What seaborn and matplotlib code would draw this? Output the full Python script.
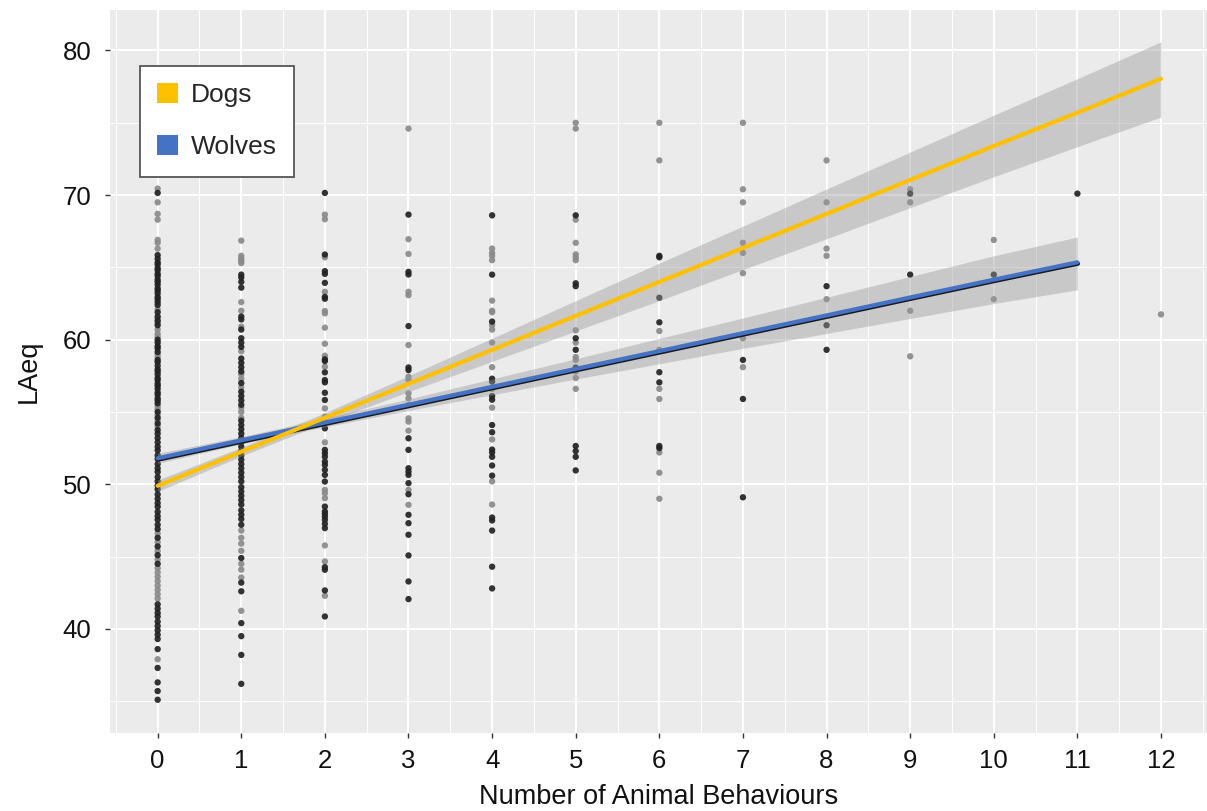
import numpy as np
import pandas as pd
import matplotlib
matplotlib.use("Agg")
import matplotlib.pyplot as plt
import matplotlib.patheffects as pe
from matplotlib.patches import Patch
from matplotlib.ticker import MultipleLocator
import seaborn as sns

# ---------------- data ----------------
behaviours = [0, 1, 2, 3, 4, 5, 6, 7, 8, 9, 10, 11, 12]
x_ticks = [0, 1, 2, 3, 4, 5, 6, 7, 8, 9, 10, 11, 12]
y_ticks = [40, 50, 60, 70, 80]

# scatter points per behaviour count (dark = overlapping / opaque, light = single)
dark_0 = [70.15, 65.85, 65.6, 65.35, 65.2, 64.95, 64.8, 64.55, 64.4, 64.15, 64.0, 63.8,
          63.55, 63.4, 63.2, 62.95, 62.8, 62.6, 62.4, 61.9, 61.6, 61.3, 61.0, 60.0,
          59.8, 59.55, 59.4, 59.15, 58.6, 58.45, 58.2, 57.95, 57.8, 57.6, 57.35, 57.2,
          56.95, 56.8, 56.6, 56.35, 56.2, 55.95, 55.8, 55.6, 55.0, 54.6, 54.2, 53.75,
          53.5, 53.2, 52.9, 52.6, 52.35, 52.0, 51.75, 51.4, 51.1, 50.85, 50.5, 50.2,
          49.9, 49.65, 49.3, 49.0, 48.7, 48.45, 48.1, 47.8, 47.55, 47.2, 46.9, 46.3,
          45.7, 45.1, 44.5, 41.7, 41.4, 41.1, 40.85, 40.5, 40.2, 39.9, 39.6, 39.3,
          38.6, 37.3, 36.3, 35.7, 35.1]
light_0 = [71.7, 70.45, 69.5, 68.7, 68.3, 66.9, 66.7, 66.3, 62.1, 61.45, 61.15, 60.7,
           60.4, 60.2, 59.0, 58.8, 55.4, 55.2, 54.8, 54.4, 54.0, 46.6, 46.0, 45.4,
           44.8, 44.2, 43.9, 43.6, 43.3, 43.0, 42.7, 42.4, 42.1, 37.9]
dark_1 = [64.5, 64.3, 64.0, 63.6, 61.6, 61.4, 60.7, 60.1, 59.8, 59.5, 58.7, 58.4, 58.1,
          57.8, 57.0, 56.4, 56.1, 55.8, 55.5, 54.4, 54.1, 53.8, 53.5, 53.2, 52.9, 52.6,
          52.3, 52.0, 51.7, 51.4, 51.1, 50.8, 50.5, 50.2, 49.8, 49.5, 49.2, 48.9, 48.6,
          48.2, 47.9, 47.6, 47.2, 44.9, 43.2, 42.6, 40.4, 39.5, 38.2, 36.2]
light_1 = [66.85, 65.8, 65.6, 65.45, 65.3, 62.6, 62.0, 60.9, 59.2, 57.6, 57.3, 56.7,
           55.3, 55.0, 54.6, 46.8, 46.3, 45.9, 45.4, 44.5, 44.1, 43.55, 41.25]
dark_2 = [70.15, 65.89, 64.74, 64.55, 63.93, 62.96, 62.83, 58.64, 58.52, 57.74, 57.21,
          57.05, 56.33, 55.83, 53.87, 52.38, 52.15, 51.91, 51.57, 51.34, 51.0, 50.65,
          50.19, 48.46, 48.12, 47.96, 47.77, 47.55, 47.27, 46.97, 44.27, 44.09, 42.66,
          40.86]
light_2 = [68.65, 68.33, 65.7, 63.31, 61.98, 61.82, 60.83, 59.72, 58.89, 58.13, 55.25,
           54.68, 54.33, 52.9, 49.61, 49.38, 49.04, 45.77, 44.66, 42.29]
dark_3 = [68.65, 64.69, 64.51, 60.94, 58.08, 57.9, 53.18, 52.38, 51.11, 50.88, 50.65,
          50.08, 49.31, 47.89, 47.31, 46.51, 45.08, 43.28, 42.06]
light_3 = [74.6, 66.95, 65.93, 63.31, 63.08, 59.63, 57.44, 57.21, 56.29, 55.94, 55.48,
           54.56, 54.33, 53.71, 49.61, 48.58]
dark_4 = [68.6, 64.5, 61.25, 57.3, 57.1, 56.1, 55.85, 54.1, 53.6, 52.4, 52.2, 51.9,
          51.3, 50.6, 47.7, 47.5, 46.8, 44.3, 42.8]
light_4 = [66.3, 66.0, 65.8, 65.5, 62.7, 62.0, 61.9, 61.0, 60.7, 59.8, 58.1, 56.6,
           55.3, 53.1, 50.2, 48.6]
dark_5 = [68.6, 63.9, 63.7, 60.1, 59.3, 58.07, 52.65, 52.3, 51.9, 50.96]
light_5 = [75.0, 74.6, 68.3, 66.7, 65.9, 65.7, 65.5, 60.65, 59.8, 58.8, 58.6, 57.8,
           57.35, 56.6]
dark_6 = [65.8, 65.7, 62.9, 61.2, 57.75, 57.05, 52.65, 52.5]
light_6 = [75.0, 72.4, 60.6, 59.3, 56.6, 55.9, 52.2, 50.8, 49.0]
dark_7 = [58.6, 55.9, 49.1]
light_7 = [75.0, 70.4, 69.5, 66.7, 66.0, 64.6, 60.1, 58.1]
dark_8 = [63.7, 61.0, 59.3]
light_8 = [72.4, 69.5, 66.3, 65.8, 62.8]
dark_9 = [70.1, 64.5]
light_9 = [70.4, 69.5, 62.0, 58.85]
dark_10 = [64.5]
light_10 = [66.9, 62.8]
dark_11 = [70.1]
light_11 = []
dark_12 = []
light_12 = [61.75]

# fitted regression lines and 95% bands, read at each integer behaviour count
dogs_x = [0, 1, 2, 3, 4, 5, 6, 7, 8, 9, 10, 11, 12]
dogs_fit = [49.9, 52.25, 54.6, 56.95, 59.3, 61.65, 64.0, 66.35, 68.7, 71.05, 73.4, 75.7, 78.05]
dogs_lo = [49.5, 51.95, 54.25, 56.4, 58.5, 60.6, 62.7, 64.85, 66.98, 69.13, 71.27, 73.35, 75.4]
dogs_hi = [50.3, 52.55, 54.95, 57.5, 60.1, 62.7, 65.3, 67.85, 70.42, 72.97, 75.53, 78.05, 80.6]

wolves_x = [0, 1, 2, 3, 4, 5, 6, 7, 8, 9, 10, 11]
wolves_fit = [51.8, 53.04, 54.27, 55.5, 56.74, 57.98, 59.21, 60.45, 61.68, 62.92, 64.15, 65.35]
wolves_lo = [51.45, 52.79, 53.97, 55.1, 56.19, 57.28, 58.33, 59.4, 60.43, 61.47, 62.5, 63.45]
wolves_hi = [52.15, 53.29, 54.57, 55.9, 57.29, 58.68, 60.09, 61.5, 62.93, 64.37, 65.8, 67.1]

series_names = ["Dogs", "Wolves"]
series_colors = ["#FFC000", "#4472C4"]

# ---------------- build tables ----------------
dark_cols = [dark_0, dark_1, dark_2, dark_3, dark_4, dark_5, dark_6, dark_7, dark_8,
             dark_9, dark_10, dark_11, dark_12]
light_cols = [light_0, light_1, light_2, light_3, light_4, light_5, light_6, light_7,
              light_8, light_9, light_10, light_11, light_12]
rows = []
for xv, dl, ll in zip(behaviours, dark_cols, light_cols):
    for v in ll:
        rows.append((xv, v, "light"))
    for v in dl:
        rows.append((xv, v, "dark"))
points = pd.DataFrame(rows, columns=["Number of Animal Behaviours", "LAeq", "shade"])

# ---------------- style ----------------
sns.set_theme(style="darkgrid", rc={
    "axes.facecolor": "#EBEBEB",
    "figure.facecolor": "white",
    "grid.color": "white",
    "axes.edgecolor": "#EBEBEB",
})
plt.rcParams["font.family"] = ["Liberation Sans", "DejaVu Sans"]

W, H = 1207, 811
fig = plt.figure(figsize=(W / 100, H / 100), dpi=100)
ax = fig.add_axes([110 / W, 78 / H, 1097 / W, 723 / H])

sns.scatterplot(data=points, x="Number of Animal Behaviours", y="LAeq", hue="shade",
                palette={"dark": "#222222", "light": "#8a8a8a"}, s=21, alpha=0.92,
                edgecolor="none", legend=False, ax=ax, zorder=2)

# confidence bands
ax.fill_between(dogs_x, dogs_lo, dogs_hi, color="#999999", alpha=0.42, lw=0, zorder=3)
ax.fill_between(wolves_x, wolves_lo, wolves_hi, color="#999999", alpha=0.42, lw=0, zorder=3)

# regression lines
sns.lineplot(x=wolves_x, y=wolves_fit, color=series_colors[1], lw=3.0, ax=ax, zorder=4,
             path_effects=[pe.SimpleLineShadow(offset=(0.4, -1.0), shadow_color="#1a1a1a",
                                               alpha=1.0), pe.Normal()])
sns.lineplot(x=dogs_x, y=dogs_fit, color=series_colors[0], lw=3.0, ax=ax, zorder=5)

ax.set_xlim(-0.57, 12.55)
ax.set_ylim(32.8, 82.8)
ax.set_xticks(x_ticks)
ax.set_yticks(y_ticks)
ax.xaxis.set_minor_locator(MultipleLocator(0.5))
ax.yaxis.set_minor_locator(MultipleLocator(5))
ax.grid(which="major", color="white", lw=1.4)
ax.grid(which="minor", color="white", lw=0.7)
ax.set_axisbelow(True)
for s in ax.spines.values():
    s.set_visible(False)
ax.tick_params(which="major", axis="both", length=3.5, width=1.0, color="#333333",
               labelsize=18.5, labelcolor="#111111", bottom=True, left=True)
ax.tick_params(axis="y", pad=10)
ax.tick_params(axis="x", pad=8)
ax.tick_params(which="minor", length=0)

ax.set_xlabel("Number of Animal Behaviours", fontsize=19.5, color="#111111", labelpad=8)
ax.set_ylabel("LAeq", fontsize=19.5, color="#111111", labelpad=15)

handles = [Patch(facecolor=c, edgecolor="none", label=n) for n, c in zip(series_names, series_colors)]
leg = ax.legend(handles=handles, loc="upper left", bbox_to_anchor=(0.027, 0.9225),
                fontsize=19, frameon=True, fancybox=False, framealpha=1,
                edgecolor="#555555", handlelength=0.8, handleheight=0.8,
                handletextpad=0.5, labelspacing=1.05, borderpad=0.65, borderaxespad=0)
leg.get_frame().set_linewidth(1.3)
leg.get_frame().set_facecolor("white")

fig.savefig("out.png", dpi=100)
